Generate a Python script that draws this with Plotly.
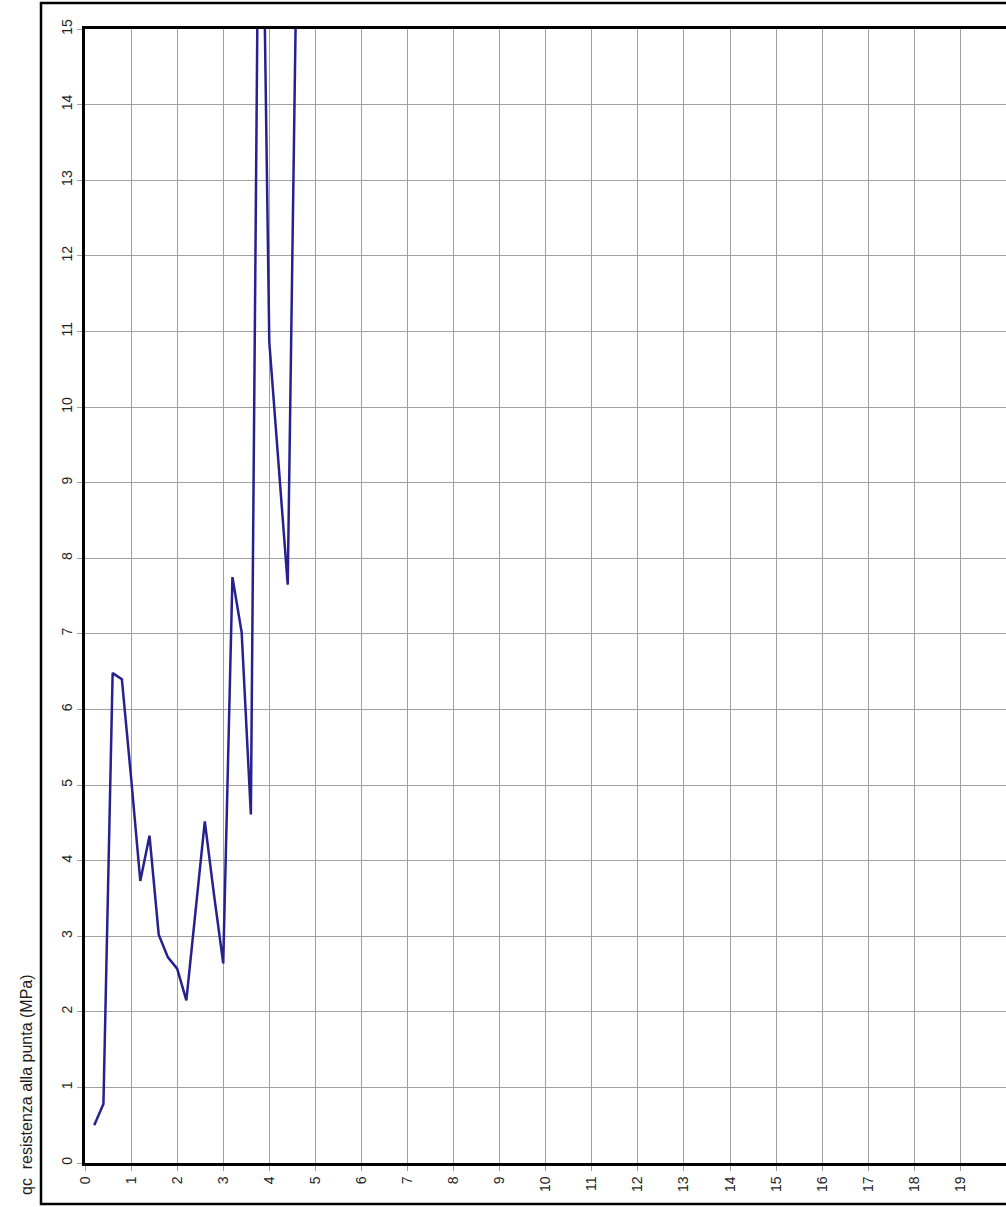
import plotly.graph_objects as go

# Penetrometer log: depth (m) against cone tip resistance qc (MPa)
depth_m = [0.2, 0.4, 0.6, 0.8, 1.0, 1.2, 1.4, 1.6, 1.8, 2.0, 2.2, 2.4,
           2.6, 2.8, 3.0, 3.2, 3.4, 3.6, 3.8, 4.0, 4.2, 4.4, 4.6]
qc_mpa = [0.50, 0.78, 6.48, 6.40, 5.10, 3.73, 4.33, 3.02, 2.72, 2.57, 2.15, 3.33,
          4.52, 3.55, 2.64, 7.75, 7.02, 4.61, 19.5, 10.86, 9.25, 7.65, 16.3]

x_ticks = list(range(0, 21))
y_ticks = list(range(0, 16))
y_title = "qc  resistenza alla punta (MPa)"

W, H = 1006, 1207
L, R, T, B = 85, 0, 29, 44
plot_w = W - L - R
plot_h = H - T - B

def px_x(px):
    return (px - L) / plot_w

def px_y(py):
    return (H - B - py) / plot_h

fig = go.Figure()
fig.add_trace(go.Scatter(
    x=depth_m, y=qc_mpa, mode="lines",
    line=dict(color="#26218e", width=2.5),
    hoverinfo="skip", showlegend=False,
))

tick_font = dict(family="Liberation Sans, Arial, sans-serif", size=14, color="#1e1e1e")

fig.update_xaxes(
    range=[0, 19.99], tickvals=x_ticks, ticktext=[str(v) for v in x_ticks],
    tickangle=-90, tickfont=tick_font,
    showgrid=True, gridcolor="#a0a0a0", gridwidth=1,
    showline=True, linecolor="#000000", linewidth=2.5, mirror=True,
    ticks="outside", ticklen=5, tickcolor="#a0a0a0",
    zeroline=False,
)
fig.update_yaxes(
    range=[0, 15], tickvals=y_ticks, ticktext=[str(v) for v in y_ticks],
    tickangle=-90, tickfont=tick_font,
    showgrid=True, gridcolor="#a0a0a0", gridwidth=1,
    showline=True, linecolor="#000000", linewidth=2.5, mirror=False,
    ticks="outside", ticklen=5, tickcolor="#a0a0a0",
    zeroline=False,
)

# Outer page frame around the chart
fig.add_shape(
    type="rect", xref="paper", yref="paper",
    x0=px_x(41), x1=px_x(1030), y0=px_y(1204), y1=px_y(3),
    line=dict(color="#000000", width=2.5), fillcolor="rgba(0,0,0,0)",
    layer="above",
)

fig.add_annotation(
    text=y_title, xref="paper", yref="paper",
    x=px_x(26), y=px_y(1085), xanchor="center", yanchor="middle",
    textangle=-90, showarrow=False,
    font=dict(family="Liberation Sans, Arial, sans-serif", size=16, color="#1e1e1e"),
)

fig.update_layout(
    width=W, height=H,
    margin=dict(l=L, r=R, t=T, b=B, pad=0),
    paper_bgcolor="#ffffff", plot_bgcolor="#ffffff",
    showlegend=False,
)

fig.write_html("out.html")
